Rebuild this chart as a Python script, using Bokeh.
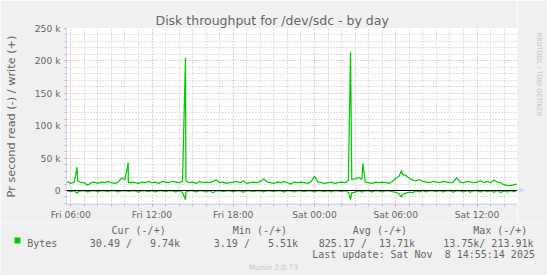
import numpy as np
from bokeh.plotting import figure
from bokeh.models import FixedTicker, Span, Range1d, ColumnDataSource
from bokeh.layouts import column, row
from bokeh.core.properties import value
from bokeh.embed import file_html
from bokeh.resources import INLINE

# ---------------- data (hours since Fri 00:00, values in kB/s) ----------------
start_hour = 5.75       # first 15-minute sample: Fri 05:45
step_hour = 0.25
write_k = [14,
           11, 13, 15, 12,  12, 8, 12, 13,  11, 13, 12, 14,  12, 11, 13, 19,
           17, 12, 13, 12,  11, 13, 12, 14,  12, 13, 11, 14,  13, 12, 14, 13,
           12, 14, 15, 12,  13, 11, 14, 12,  13, 12, 14, 16.5, 12, 13, 11, 12,
           13, 14, 12, 15,  11, 12, 13, 12,  14, 18, 13, 12,  11, 13, 12, 14,
           12, 10, 13, 12,  13, 12, 11, 14,  22, 13, 12, 11,  12, 13, 11, 12,
           13, 12, 16, 17,  18, 20, 17, 13,  12, 11, 13, 12,  13, 12, 11, 14,
           19, 22, 25, 23,  19, 16, 15, 17,  14, 13, 12, 14,  13, 12, 14, 13,
           12, 13, 20, 13,  12, 14, 13, 12,  13, 15, 12, 14,  12, 16, 13, 12,
           9, 8, 7.5, 9]
read_k = [0.5,
          1.8, 0.4, 2.5, 0.6,  0.3, 2.0, 0.5, 0.4,  2.2, 0.3, 0.5, 1.9,  0.4, 0.6, 2.1, 0.3,
          0.5, 1.8, 0.4, 0.6,  2.4, 0.3, 0.5, 1.7,  0.4, 2.0, 0.3, 0.6,  1.9, 0.4, 0.5, 2.2,
          0.3, 3.0, 2.5, 0.4,  0.6, 2.1, 0.3, 0.5,  2.3, 0.4, 3.5, 0.5,  0.3, 1.9, 0.6, 0.4,
          2.0, 0.3, 0.5, 2.4,  0.4, 0.6, 1.8, 0.3,  0.5, 2.2, 0.4, 0.6,  1.9, 0.3, 0.5, 2.1,
          0.4, 0.6, 2.3, 0.3,  0.5, 1.8, 0.4, 0.6,  2.2, 0.3, 0.5, 1.9,  0.4, 2.0, 0.3, 0.6,
          1.8, 0.4, 2.8, 3.5,  2.4, 0.5, 2.0, 0.4,  0.6, 2.1, 0.3, 0.5,  2.3, 0.4, 0.6, 1.9,
          3.0, 5.0, 6.5, 4.0,  2.5, 3.2, 0.5, 2.0,  0.4, 2.2, 0.3, 0.6,  1.9, 0.4, 2.1, 0.5,
          0.3, 2.4, 0.5, 0.6,  2.0, 0.3, 2.6, 0.4,  0.5, 2.2, 0.4, 1.9,  0.6, 2.5, 0.3, 2.8,
          0.5, 2.3, 0.4, 2.0]
# short spikes and the last sample
extra_hours = [6.47, 10.24, 14.47, 26.66, 27.57, 30.42, 38.92]
extra_write_k = [36, 43, 205, 214, 42, 31, 9.74]
extra_read_k = [4.2, 1.0, 14.4, 14.0, 2.0, 10.3, 0.03]

tick_hours = [6, 12, 18, 24, 30, 36]
tick_labels = ["Fri 06:00", "Fri 12:00", "Fri 18:00", "Sat 00:00", "Sat 06:00", "Sat 12:00"]
y_ticks = [0, 50000, 100000, 150000, 200000, 250000]
y_labels = ["0", "50 k", "100 k", "150 k", "200 k", "250 k"]

legend_headers = ["Cur (-/+)", "Min (-/+)", "Avg (-/+)", "Max (-/+)"]
legend_values = ["30.49 /   9.74k", "3.19 /   5.51k", "825.17 /  13.71k", "13.75k/ 213.91k"]
series_name = "Bytes"
last_update = "Last update: Sat Nov  8 14:55:14 2025"

# ---------------- build series ----------------
base_hours = [start_hour + i * step_hour for i in range(len(write_k))]
pts = sorted(zip(base_hours + extra_hours, write_k + extra_write_k, read_k + extra_read_k))
src = ColumnDataSource(dict(h=[q[0] for q in pts],
                            w=[q[1] * 1000 for q in pts],
                            r=[-q[2] * 1000 for q in pts]))

# ---------------- colours / fonts ----------------
BACK = "#F0F0F0"
FONT = "#666666"
AXIS = "#CFD6F8"
MGRID = "#e09a9a"
GRID = "#c0c0c0"
GREEN = "#00CC00"

# ---------------- main chart ----------------
MW, MH = 517, 222
FL, FT, FB = 66, 28, 204
px_per_h = 13.54
x0 = 6 - 4.3 / px_per_h
x1 = x0 + (MW - FL) / px_per_h
sy = 162 / 250000.0
y1 = 250000
y0 = y1 - (FB - FT) / sy

p = figure(width=MW, height=MH, output_backend="svg", toolbar_location=None,
           x_range=Range1d(x0, x1), y_range=Range1d(y0, y1),
           min_border_left=FL, min_border_right=0, min_border_top=FT,
           min_border_bottom=MH - FB)
p.background_fill_color = "#FFFFFF"
p.border_fill_color = BACK
p.outline_line_color = None

p.title.text = "Disk throughput for /dev/sdc - by day"
p.title.align = "left"
p.title.offset = 89
p.title.standoff = 1
p.title.text_font = "DejaVu Sans"
p.title.text_font_size = "12.5px"
p.title.text_font_style = "normal"
p.title.text_color = FONT

xt = FixedTicker(ticks=tick_hours, minor_ticks=[h for h in range(6, 39) if h not in tick_hours])
yt = FixedTicker(ticks=y_ticks, minor_ticks=[v for v in range(-20000, 250001, 10000) if v not in y_ticks])
p.xaxis.ticker = xt
p.yaxis.ticker = yt
p.xgrid.ticker = xt
p.ygrid.ticker = yt
p.xaxis.major_label_overrides = {h: l for h, l in zip(tick_hours, tick_labels)}
p.yaxis.major_label_overrides = {v: l for v, l in zip(y_ticks, y_labels)}
p.yaxis.bounds = (y0, y1 + 7 / sy)

for ax in (p.xaxis, p.yaxis):
    ax.axis_line_color = AXIS
    ax.major_tick_line_color = MGRID
    ax.minor_tick_line_color = GRID
    ax.major_tick_in = 0
    ax.minor_tick_in = 0
    ax.major_tick_out = 2
    ax.minor_tick_out = 2
    ax.major_label_text_font = "DejaVu Sans"
    ax.major_label_text_font_size = "9.2px"
    ax.major_label_text_color = FONT
    ax.major_label_text_font_style = "normal"
p.yaxis.major_label_standoff = 4
p.xaxis.major_label_standoff = 2
p.yaxis.axis_label = "Pr second read (-) / write (+)"
p.yaxis.axis_label_text_font = "DejaVu Sans"
p.yaxis.axis_label_text_font_size = "11.3px"
p.yaxis.axis_label_text_font_style = "normal"
p.yaxis.axis_label_text_color = FONT
p.yaxis.axis_label_standoff = 14

for g in (p.xgrid, p.ygrid):
    g.grid_line_color = MGRID
    g.grid_line_dash = "1 2"
    g.grid_line_width = 1
    g.minor_grid_line_color = GRID
    g.minor_grid_line_dash = "1 2"
    g.minor_grid_line_width = 1

p.line("h", "w", source=src, line_color=GREEN, line_width=1.25)
p.line("h", "r", source=src, line_color=GREEN, line_width=1.25)
p.add_layout(Span(location=0, dimension="width", line_color="black", line_width=1))


def blank(w, h, xr, yr):
    f = figure(width=w, height=h, output_backend="svg", toolbar_location=None,
               x_range=Range1d(*xr), y_range=Range1d(*yr),
               x_axis_type=None, y_axis_type=None,
               min_border_left=0, min_border_right=0, min_border_top=0, min_border_bottom=0)
    f.background_fill_color = BACK
    f.border_fill_color = BACK
    f.outline_line_color = None
    f.grid.visible = False
    return f

# ---------------- right strip: x-axis arrow + watermark ----------------
SW = 547 - MW
side = blank(SW, MH, (MW, 547), (0, MH))
def sY(Y):
    return MH - Y
side.patch([517, 519, 519, 524, 519, 519, 517],
           [sY(203.5), sY(203.5), sY(201.5), sY(204), sY(206.5), sY(204.5), sY(204.5)],
           fill_color=AXIS, line_color=AXIS, line_width=0.5)
side.text(x=[538], y=[sY(5)], text=["RRDTOOL / TOBI OETIKER"], angle=-np.pi / 2,
          text_font=value("DejaVu Sans"), text_font_size="6.5px", text_color="#c4c4c4",
          text_align="left", text_baseline="middle")

# ---------------- legend strip ----------------
LH = 275 - MH
leg = blank(547, LH, (0, 547), (0, LH))
def lY(Y):
    return 275 - Y

CW = 6.02
mx, my, mt = [], [], []
def mono(text, X, Y):
    pieces = []
    i = 0
    while i < len(text):
        if text[i] == " ":
            i += 1
            continue
        j = text.find("  ", i)
        if j < 0:
            j = len(text)
        pieces.append((i, text[i:j]))
        i = j
    for idx, s in pieces:
        mx.append(X + idx * CW)
        my.append(lY(Y))
        mt.append(s)

header_x = [111, 232.3, 352.3, 472.7]
value_x = [89.3, 213.3, 318.3, 442.7]
for t, X in zip(legend_headers, header_x):
    mono(t, X, 230)
mono(series_name, 26.7, 242.7)
for t, X in zip(legend_values, value_x):
    mono(t, X, 242.7)
mono(last_update, 311.7, 254.3)
leg.text(x=mx, y=my, text=mt, text_font=value("DejaVu Sans Mono"), text_font_size="10px",
         text_color=FONT, text_align="left", text_baseline="alphabetic")
leg.quad(left=[14], right=[20], bottom=[lY(243)], top=[lY(237)],
         fill_color=GREEN, line_color=None)
leg.text(x=[273], y=[lY(266.5)], text=["Munin 2.0.73"], text_font=value("DejaVu Sans"),
         text_font_size="7.5px", text_color="#c8c8c8", text_align="center",
         text_baseline="alphabetic")

layout = column(row(p, side), leg)
open("out.html", "w").write(file_html(layout, INLINE))
